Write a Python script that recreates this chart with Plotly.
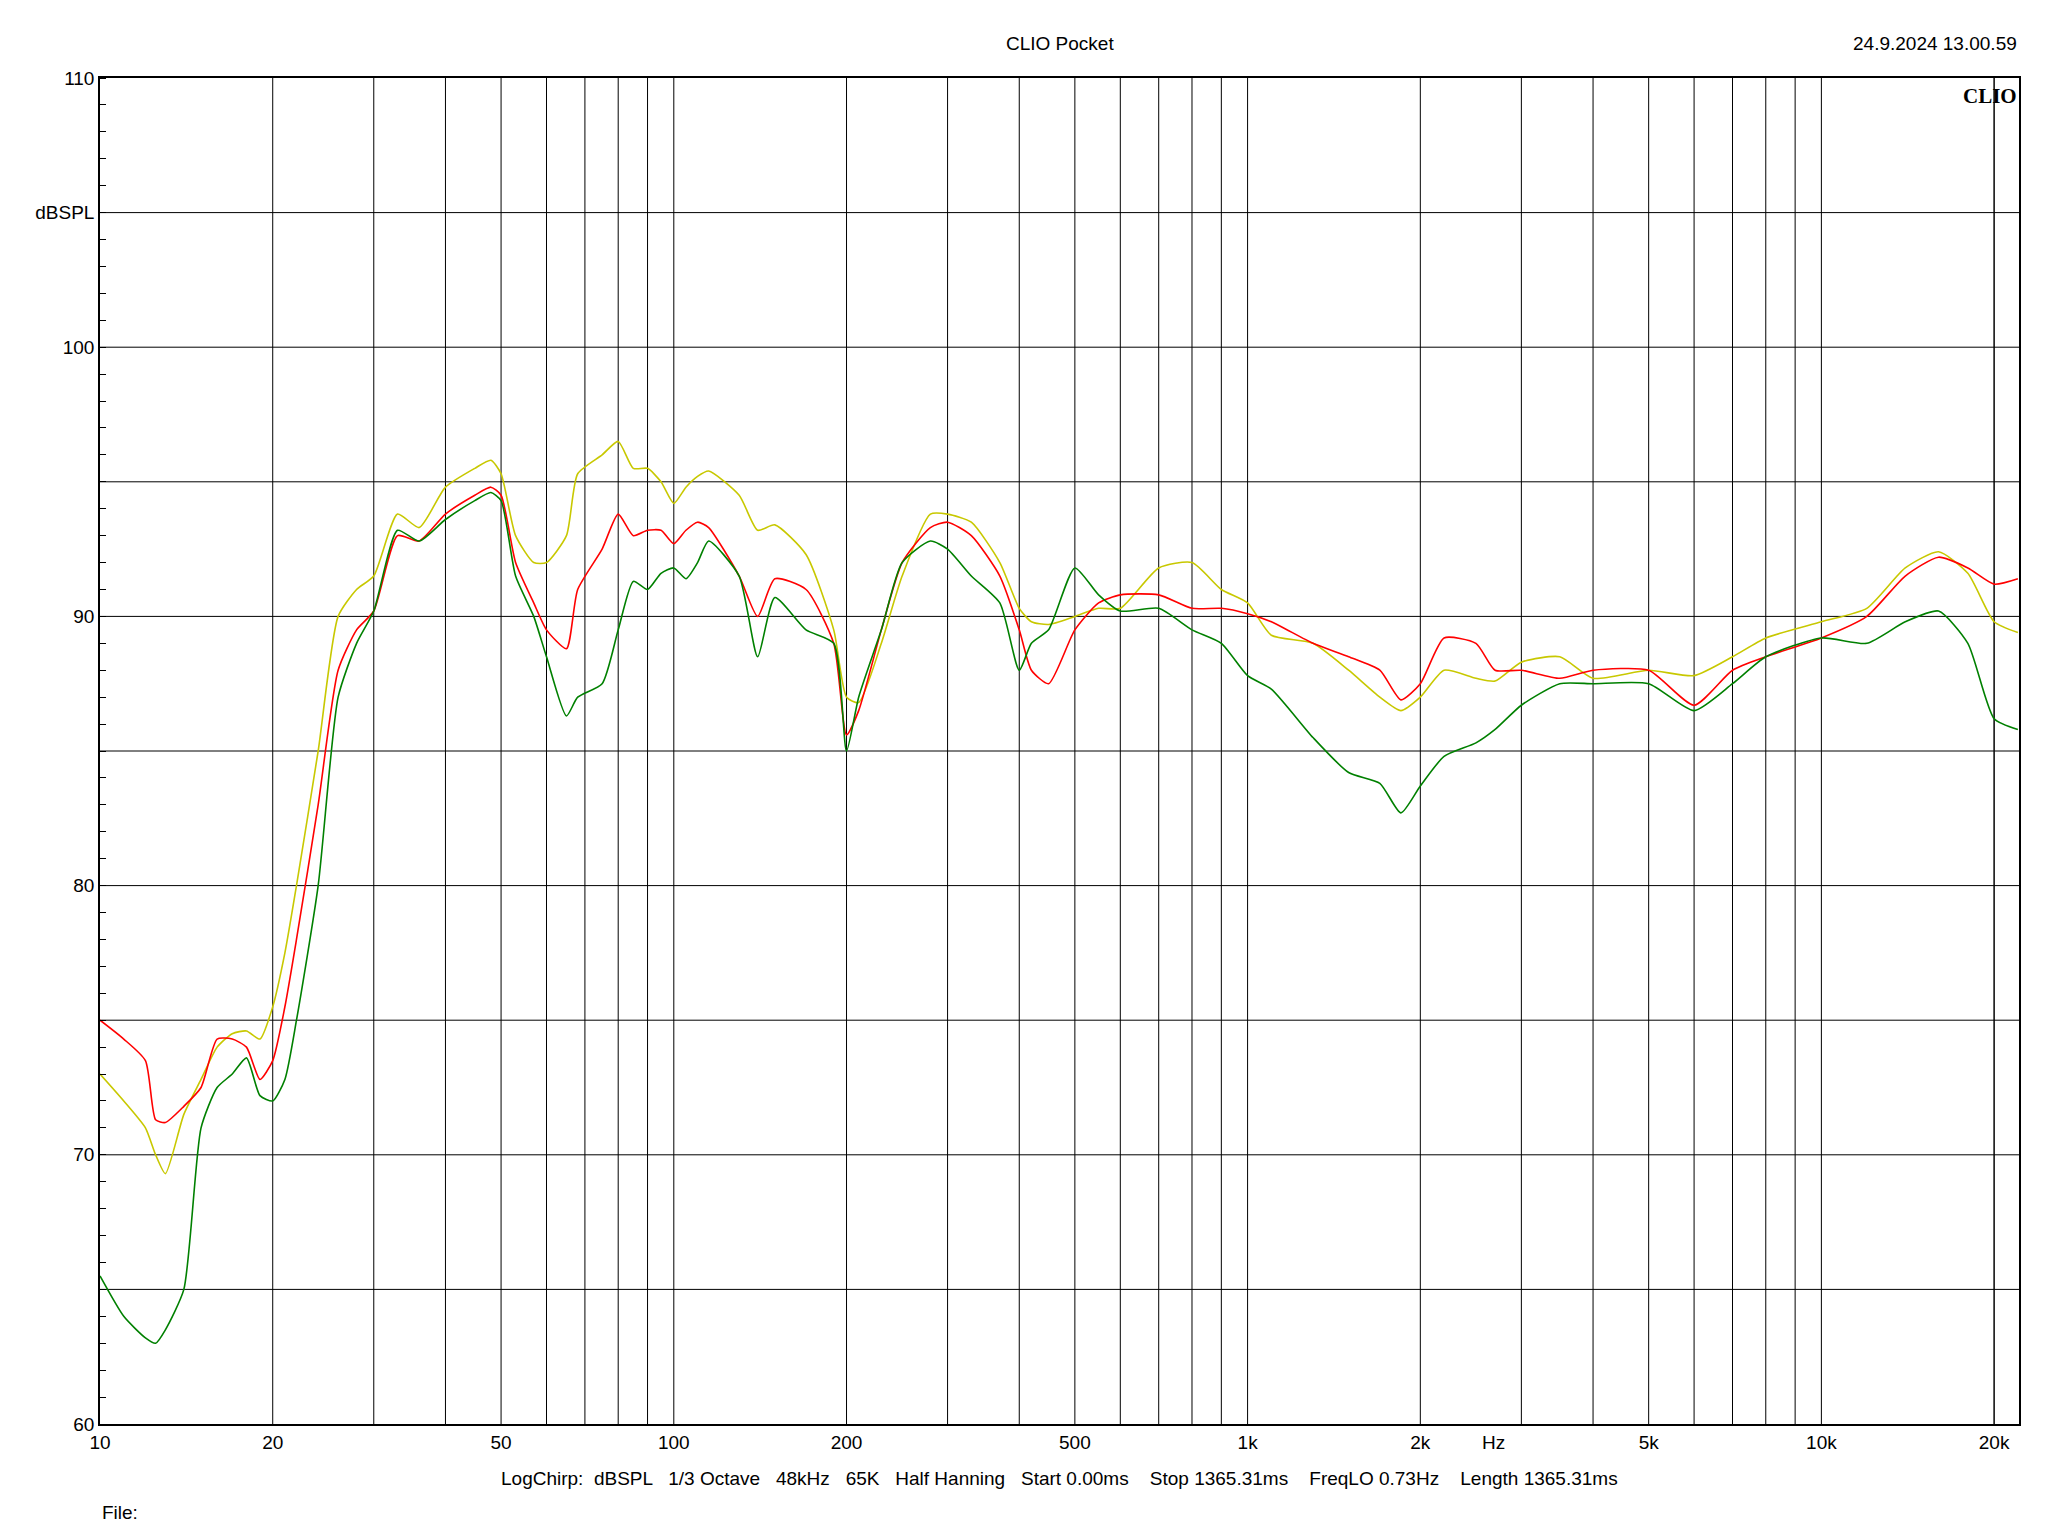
import plotly.graph_objects as go
import numpy as np

freq = [10,11,12,12.5,13,14,15,16,17,18,19,20,21,22,24,26,28,30,33,36,40,45,48,50,53,57,60,65,68,75,80,85,90,95,100,105,110,115,130,140,150,170,190,200,210,230,250,280,300,330,370,400,420,450,500,550,600,700,800,900,1000,1100,1300,1500,1700,1850,2000,2200,2500,2700,3000,3500,4000,5000,6000,7000,8000,10000,12000,14000,16000,18000,20000,22000]

red = [75,74.3,73.5,71.3,71.2,71.8,72.5,74.3,74.3,74,72.8,73.5,75.5,78,83,88,89.5,90.2,93,92.8,93.8,94.5,94.8,94.5,92,90.5,89.5,88.8,91,92.5,93.8,93,93.2,93.2,92.7,93.2,93.5,93.3,91.5,90,91.4,91,89,85.6,86.5,89.5,92,93.3,93.5,93,91.5,89.5,88,87.5,89.5,90.5,90.8,90.8,90.3,90.3,90.1,89.8,89,88.5,88,86.9,87.5,89.2,89,88,88,87.7,88,88,86.7,88,88.5,89.2,90,91.5,92.2,91.8,91.2,91.4]

yellow = [73,72,71,70,69.3,71.5,72.8,74,74.5,74.6,74.3,75.5,77.5,80,85,90,91,91.5,93.8,93.3,94.8,95.5,95.8,95.3,93,92,92,93,95.3,96,96.5,95.5,95.5,95,94.2,94.8,95.2,95.4,94.5,93.2,93.4,92.3,89.5,87,86.8,89,91.5,93.8,93.8,93.5,92,90.3,89.8,89.7,90,90.3,90.3,91.8,92,91,90.5,89.3,89,88,87,86.5,87,88,87.7,87.6,88.3,88.5,87.7,88,87.8,88.5,89.2,89.8,90.3,91.8,92.4,91.6,89.8,89.4]

green = [65.5,64,63.2,63,63.5,65,71,72.5,73,73.6,72.2,72,72.8,75,80,87,89,90.2,93.2,92.8,93.6,94.3,94.6,94.3,91.5,90,88.5,86.3,87,87.5,89.5,91.3,91,91.6,91.8,91.4,92,92.8,91.5,88.5,90.7,89.5,89,85,87,89.5,92,92.8,92.5,91.5,90.5,88,89,89.5,91.8,90.8,90.2,90.3,89.5,89,87.8,87.3,85.5,84.2,83.8,82.7,83.7,84.8,85.3,85.8,86.7,87.5,87.5,87.5,86.5,87.5,88.5,89.2,89,89.8,90.2,89,86.2,85.8]

xtick_vals = [10,20,50,100,200,500,1000,2000,5000,10000,20000]
xtick_text = ["10","20","50","100","200","500","1k","2k","5k","10k","20k"]
ytick_vals = [60,70,80,90,100,105,110]
ytick_text = ["60","70","80","90","100","dBSPL","110"]

grid_x = [d*m for d in [10,100,1000,10000] for m in range(1,10)] + [20000]

fig = go.Figure()
for y, c in [(yellow, "#c8c800"), (red, "#ff0000"), (green, "#008000")]:
    fig.add_trace(go.Scatter(x=freq, y=y, mode="lines", line=dict(color=c, width=1.6, shape="spline", smoothing=0.6), showlegend=False))

shapes = []
for g in grid_x:
    if 10 < g < 22100:
        shapes.append(dict(type="line", xref="x", yref="paper", x0=g, x1=g, y0=0, y1=1, line=dict(color="black", width=1), layer="below"))
for g in range(65, 110, 5):
    shapes.append(dict(type="line", xref="paper", yref="y", x0=0, x1=1, y0=g, y1=g, line=dict(color="black", width=1), layer="below"))
fig.update_layout(shapes=shapes)

font = dict(family="Liberation Sans, Arial", size=19, color="black")
fig.update_xaxes(type="log", range=[1, np.log10(22100)], tickvals=xtick_vals, ticktext=xtick_text,
                 showgrid=False, showline=True, mirror=True, linecolor="black", linewidth=1.5,
                 ticks="", tickfont=font, zeroline=False)
fig.update_yaxes(range=[60, 110], tickvals=ytick_vals, ticktext=ytick_text, showgrid=False,
                 showline=True, mirror=True, linecolor="black", linewidth=1.5, ticks="",
                 tickfont=font, zeroline=False,
                 minor=dict(dtick=1, ticks="inside", ticklen=6, tickcolor="black", showgrid=False))
fig.update_layout(
    width=2048, height=1536, plot_bgcolor="white", paper_bgcolor="white",
    margin=dict(l=92, r=37, t=70, b=120), font=font,
    annotations=[
        dict(text="CLIO Pocket", x=0.5, y=1.0, xref="paper", yref="paper", yshift=22, showarrow=False, font=font, yanchor="bottom"),
        dict(text="24.9.2024 13.00.59", x=1.0, y=1.0, xref="paper", yref="paper", yshift=22, xanchor="right", yanchor="bottom", showarrow=False, font=font),
        dict(text="<b>CLIO</b>", x=1.0, y=1.0, xref="paper", yref="paper", xanchor="right", yanchor="top", yshift=-4, showarrow=False,
             font=dict(family="Liberation Serif", size=21, color="black")),
        dict(text="Hz", x=np.log10(2680), y=0, xref="x", yref="paper", yanchor="top", yshift=-6, showarrow=False, font=font),
        dict(text="LogChirp:  dBSPL   1/3 Octave   48kHz   65K   Half Hanning   Start 0.00ms    Stop 1365.31ms    FreqLO 0.73Hz    Length 1365.31ms",
             x=0.5, y=0, xref="paper", yref="paper", yanchor="top", yshift=-42, showarrow=False, font=font),
        dict(text="File:", x=0, y=0, xref="paper", yref="paper", xanchor="left", yanchor="top", yshift=-76, showarrow=False, font=font),
    ])
fig.write_html("out.html")
